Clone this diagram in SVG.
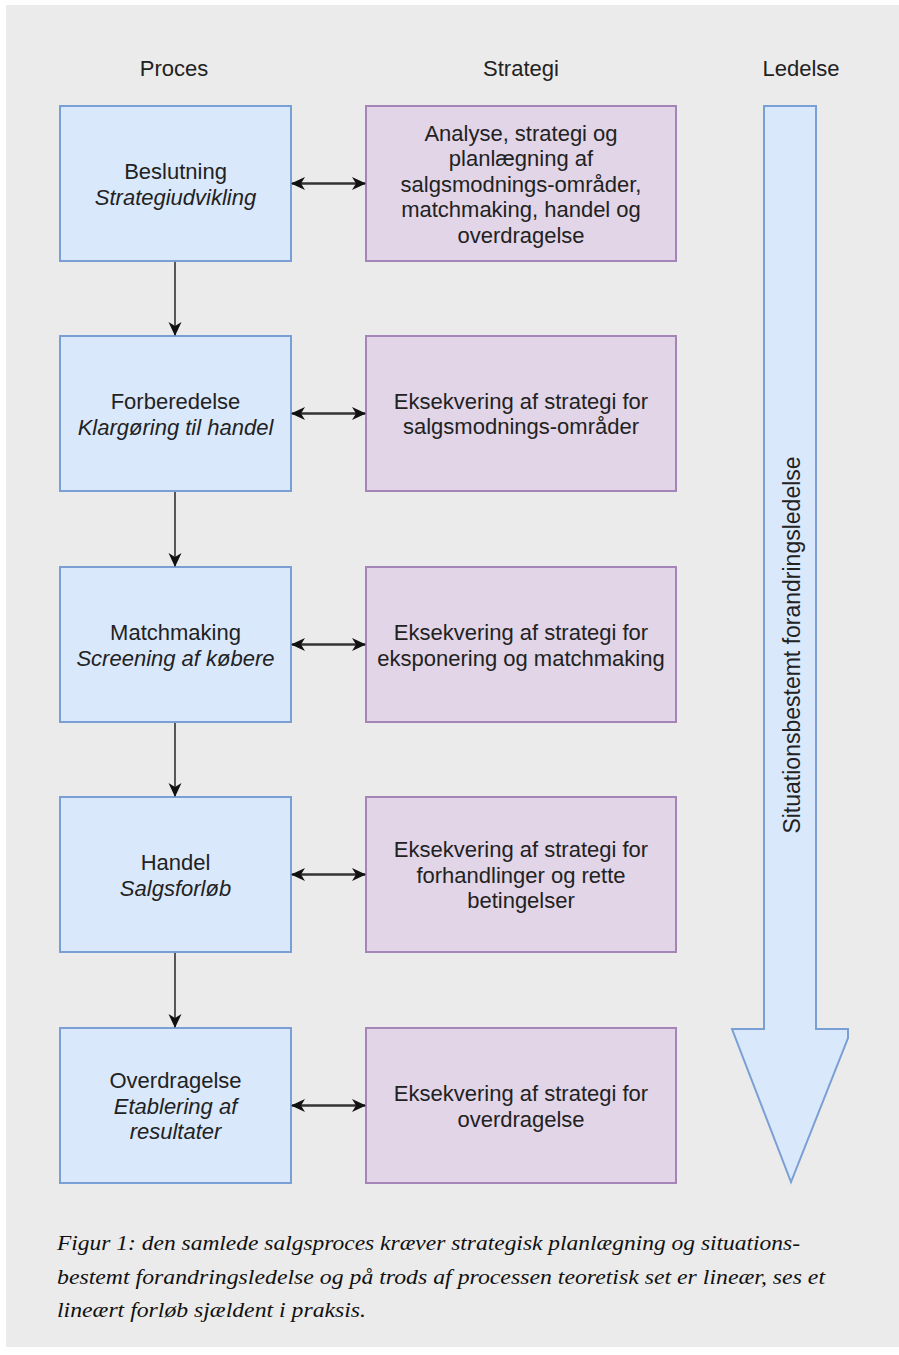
<svg xmlns="http://www.w3.org/2000/svg" width="899" height="1355" viewBox="0 0 899 1355">
<style>
.bg{fill:#ebebeb}
.proc{fill:#dae8fc;stroke:#7a9fd4;stroke-width:2}
.strat{fill:#e1d5e7;stroke:#a584b8;stroke-width:2}
.t{font-family:"Liberation Sans",Arial,Helvetica,sans-serif;font-size:22px;fill:#222;text-anchor:middle}
.i{font-style:italic}
.hdr{font-family:"Liberation Sans",Arial,Helvetica,sans-serif;font-size:22px;fill:#222;text-anchor:middle}
.cap{font-family:"Liberation Serif","Times New Roman",serif;font-style:italic;font-size:21px;fill:#111}
.conn{stroke:#333;stroke-width:1.6;fill:none}
.conn2{stroke:#333;stroke-width:2.4;fill:none}
</style>
<defs>
<marker id="ah" viewBox="0 0 14 14" refX="13" refY="7" markerWidth="14" markerHeight="14" markerUnits="userSpaceOnUse" orient="auto-start-reverse">
<path d="M0,0.5 L14,7 L0,13.5 L4,7 z" fill="#111"/>
</marker>
<marker id="ah2" viewBox="0 0 14 14" refX="13" refY="7" markerWidth="14" markerHeight="14" markerUnits="userSpaceOnUse" orient="auto-start-reverse">
<path d="M0,0.5 L14,7 L0,13.5 L4,7 z" fill="#111"/>
</marker>
</defs>
<rect width="899" height="1355" fill="#ffffff"/>
<rect class="bg" x="6" y="5" width="893" height="1342"/>

<g id="headers">
<text class="hdr" x="174" y="76">Proces</text>
<text class="hdr" x="521" y="76">Strategi</text>
<text class="hdr" x="801" y="76">Ledelse</text>
</g>

<g id="ledelse-arrow">
<polygon points="764,106 816,106 816,1029 848,1029 848,1038 791,1182 732,1029 764,1029" fill="#dae8fc" stroke="#7a9fd4" stroke-width="2"/>
<text class="t" transform="translate(800,645) rotate(-90)" style="font-size:23px">Situationsbestemt forandringsledelse</text>
</g>

<g id="p1">
<rect class="proc" x="60" y="106" width="231" height="155"/>
<text class="t" x="175.5" y="179">Beslutning</text>
<text class="t i" x="175.5" y="204.5">Strategiudvikling</text>
</g>
<g id="p2">
<rect class="proc" x="60" y="336" width="231" height="155"/>
<text class="t" x="175.5" y="409">Forberedelse</text>
<text class="t i" x="175.5" y="434.5">Klargøring til handel</text>
</g>
<g id="p3">
<rect class="proc" x="60" y="567" width="231" height="155"/>
<text class="t" x="175.5" y="640">Matchmaking</text>
<text class="t i" x="175.5" y="665.5">Screening af købere</text>
</g>
<g id="p4">
<rect class="proc" x="60" y="797" width="231" height="155"/>
<text class="t" x="175.5" y="870">Handel</text>
<text class="t i" x="175.5" y="895.5">Salgsforløb</text>
</g>
<g id="p5">
<rect class="proc" x="60" y="1028" width="231" height="155"/>
<text class="t" x="175.5" y="1088">Overdragelse</text>
<text class="t i" x="175.5" y="1113.5">Etablering af</text>
<text class="t i" x="175.5" y="1139">resultater</text>
</g>

<g id="s1">
<rect class="strat" x="366" y="106" width="310" height="155"/>
<text class="t" x="521" y="140.5">Analyse, strategi og</text>
<text class="t" x="521" y="166">planlægning af</text>
<text class="t" x="521" y="191.5">salgsmodnings-områder,</text>
<text class="t" x="521" y="217">matchmaking, handel og</text>
<text class="t" x="521" y="242.5">overdragelse</text>
</g>
<g id="s2">
<rect class="strat" x="366" y="336" width="310" height="155"/>
<text class="t" x="521" y="408.5">Eksekvering af strategi for</text>
<text class="t" x="521" y="434">salgsmodnings-områder</text>
</g>
<g id="s3">
<rect class="strat" x="366" y="567" width="310" height="155"/>
<text class="t" x="521" y="640">Eksekvering af strategi for</text>
<text class="t" x="521" y="665.5">eksponering og matchmaking</text>
</g>
<g id="s4">
<rect class="strat" x="366" y="797" width="310" height="155"/>
<text class="t" x="521" y="857">Eksekvering af strategi for</text>
<text class="t" x="521" y="882.5">forhandlinger og rette</text>
<text class="t" x="521" y="908">betingelser</text>
</g>
<g id="s5">
<rect class="strat" x="366" y="1028" width="310" height="155"/>
<text class="t" x="521" y="1101">Eksekvering af strategi for</text>
<text class="t" x="521" y="1126.5">overdragelse</text>
</g>

<g id="connectors">
<line class="conn" x1="175" y1="262" x2="175" y2="335" marker-end="url(#ah)"/>
<line class="conn" x1="175" y1="492" x2="175" y2="566" marker-end="url(#ah)"/>
<line class="conn" x1="175" y1="723" x2="175" y2="796" marker-end="url(#ah)"/>
<line class="conn" x1="175" y1="953" x2="175" y2="1027" marker-end="url(#ah)"/>
<line class="conn2" x1="292" y1="183.5" x2="365" y2="183.5" marker-start="url(#ah2)" marker-end="url(#ah2)"/>
<line class="conn2" x1="292" y1="413.5" x2="365" y2="413.5" marker-start="url(#ah2)" marker-end="url(#ah2)"/>
<line class="conn2" x1="292" y1="644.5" x2="365" y2="644.5" marker-start="url(#ah2)" marker-end="url(#ah2)"/>
<line class="conn2" x1="292" y1="874.5" x2="365" y2="874.5" marker-start="url(#ah2)" marker-end="url(#ah2)"/>
<line class="conn2" x1="292" y1="1105.5" x2="365" y2="1105.5" marker-start="url(#ah2)" marker-end="url(#ah2)"/>
</g>

<g id="caption">
<text class="cap" x="57" y="1250" textLength="743" lengthAdjust="spacingAndGlyphs">Figur 1: den samlede salgsproces kræver strategisk planlægning og situations-</text>
<text class="cap" x="57" y="1284" textLength="768" lengthAdjust="spacingAndGlyphs">bestemt forandringsledelse og på trods af processen teoretisk set er lineær, ses et</text>
<text class="cap" x="57" y="1317" textLength="309" lengthAdjust="spacingAndGlyphs">lineært forløb sjældent i praksis.</text>
</g>
</svg>
